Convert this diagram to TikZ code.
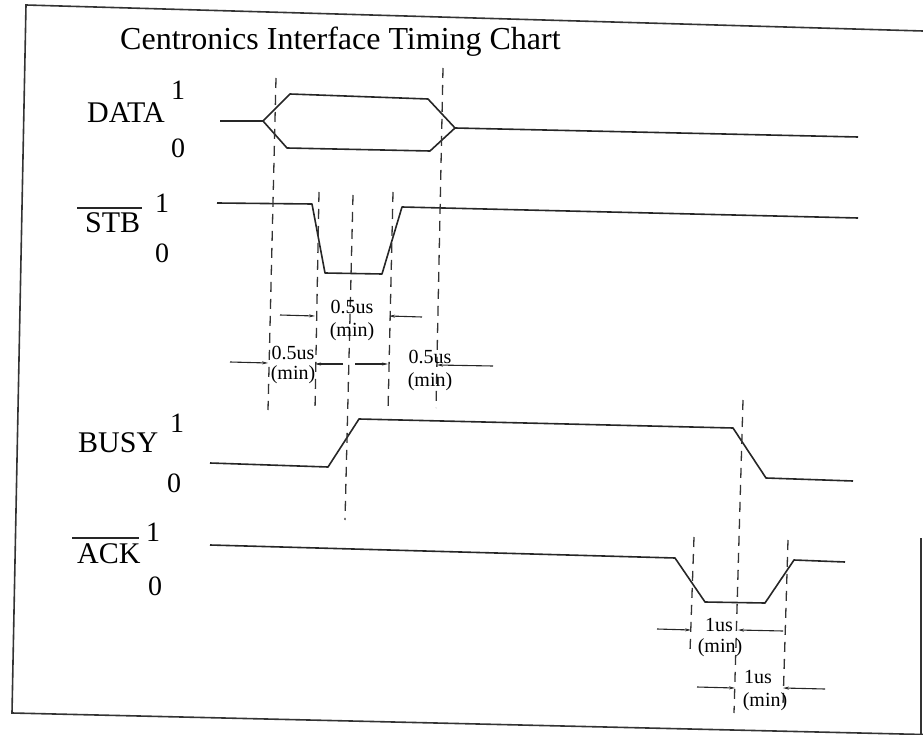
\documentclass[tikz,border=0pt]{standalone}
\usepackage{fontspec}
\setmainfont{Liberation Serif}
\usepackage{tikz}
\usetikzlibrary{arrows.meta, calc}

\begin{document}
\begin{tikzpicture}[
    x=1pt, y=-1pt,
    signal/.style={
        draw=black!85,
        line width=1.6pt,
        line join=round
    },
    guide/.style={
        draw=black!80,
        line width=1.3pt,
        dash pattern=on 10pt off 7pt
    },
    dimarrow/.style={
        -{Stealth[length=6pt, width=3pt]},
        line width=1.1pt,
        draw=black!85
    },
    frameline/.style={
        draw=black!80,
        line width=1.6pt
    },
    title/.style={
        anchor=base west,
        inner sep=0pt,
        font=\fontsize{32}{36}\selectfont
    },
    signame/.style={
        anchor=base west,
        inner sep=0pt,
        font=\fontsize{30}{34}\selectfont
    },
    level/.style={
        inner sep=0pt,
        font=\fontsize{28}{30}\selectfont
    },
    timing/.style={
        inner sep=0pt,
        font=\fontsize{20}{22}\selectfont
    }
]
    \useasboundingbox (0,0) rectangle (923,735);

    % --- SCANNED FRAME ---
    \draw[frameline] (923,31) -- (26,5) -- (12,713) -- (923,734.5);
    \draw[frameline] (921,538) -- (921,735);

    % --- TITLE AND SIGNAL NAMES ---
    \node[title] (chart_title) at (120,50) {Centronics Interface Timing Chart};

    \node[signame] (data_name) at (87,123) {DATA};
    \node[signame] (stb_name) at (85,233) {STB};
    \node[signame] (busy_name) at (78,452) {BUSY};
    \node[signame] (ack_name) at (77,563) {ACK};
    \draw[line width=1.2pt, black!85] ([xshift=-8pt, yshift=5pt]stb_name.north west) -- ([xshift=2pt, yshift=5pt]stb_name.north east);
    \draw[line width=1.2pt, black!85] ([xshift=-5pt, yshift=5pt]ack_name.north west) -- ([xshift=-2pt, yshift=5pt]ack_name.north east);

    \node[level] (data_hi) at (178,90) {1};
    \node[level] (data_lo) at (178,148) {0};
    \node[level] (stb_hi) at (162,203) {1};
    \node[level] (stb_lo) at (162,253) {0};
    \node[level] (busy_hi) at (177,423) {1};
    \node[level] (busy_lo) at (174,483) {0};
    \node[level] (ack_hi) at (153,532) {1};
    \node[level] (ack_lo) at (155,586) {0};

    % --- WAVEFORMS ---
    \draw[signal] (220,121) -- (263,121) -- (290,94) -- (428,99) -- (455,128) -- (858,137);
    \draw[signal] (263,121) -- (287,148) -- (430,151) -- (455,128);
    \draw[signal] (217,203) -- (312,204) -- (325,273) -- (382,274) -- (402,207) -- (858,218);
    \draw[signal] (210,463) -- (328,467) -- (359,419) -- (733,428) -- (766,478) -- (853,481);
    \draw[signal] (210,545) -- (675,558) -- (705,602) -- (765,603) -- (794,560) -- (845,562);

    % --- DASHED TIMING MARKERS ---
    \draw[guide] (276,78) -- (268,410);
    \draw[guide] (319,192) -- (315,410);
    \draw[guide] (353,195) -- (345,520);
    \draw[guide] (393,192) -- (388,412);
    \draw[guide] (443,68) -- (436,408);
    \draw[guide] (743,400) -- (734,713);
    \draw[guide] (694,537) -- (690,652);
    \draw[guide] (788,540) -- (783,705);

    % --- STB WIDTH, SETUP AND HOLD ---
    \draw[dimarrow] (280,315) -- (315,316);
    \draw[dimarrow] (422,317) -- (389,316);
    \node[timing] (pw_val) at (352,307) {0.5us};
    \node[timing] (pw_min) at (352,332) {(min)};

    \draw[dimarrow] (230,362) -- (268,363);
    \draw[dimarrow] (343,364) -- (315,364);
    \node[timing] (su_val) at (293,353) {0.5us};
    \node[timing] (su_min) at (293,375) {(min)};

    \draw[dimarrow] (355,364) -- (388,364);
    \draw[dimarrow] (493,366) -- (437,365);
    \node[timing] (ho_val) at (430,357) {0.5us};
    \node[timing] (ho_min) at (430,382) {(min)};

    % --- ACK TIMING ---
    \draw[dimarrow] (657,629) -- (691,630);
    \draw[dimarrow] (783,631) -- (738,630);
    \node[timing] (ack_val) at (719,625) {1us};
    \node[timing] (ack_min) at (720,648) {(min)};

    \draw[dimarrow] (697,687) -- (735,688);
    \draw[dimarrow] (825,689) -- (783,688);
    \node[timing] (bk_val) at (758,677) {1us};
    \node[timing] (bk_min) at (765,702) {(min)};

\end{tikzpicture}
\end{document}
